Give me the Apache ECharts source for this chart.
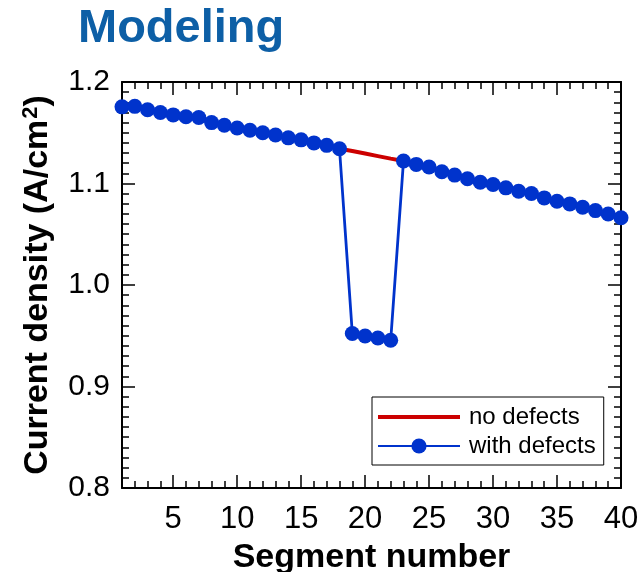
<!DOCTYPE html>
<html>
<head>
<meta charset="utf-8">
<script src="https://cdn.jsdelivr.net/npm/echarts@6/dist/echarts.min.js"></script>
<style>
html,body{margin:0;padding:0;background:#fff;}
#chart{width:640px;height:572px;}
</style>
</head>
<body>
<div id="chart"></div>
<script>
// Data
var segments = [];
for (var i = 1; i <= 40; i++) segments.push(i);
var withDefects = [
  1.1755, 1.176, 1.1726, 1.170, 1.1676, 1.1657, 1.165, 1.160, 1.1574, 1.1547,
  1.1525, 1.150, 1.1478, 1.145, 1.143, 1.140, 1.1376, 1.1342, 0.9522, 0.9498,
  0.9478, 0.9455, 1.1221, 1.1188, 1.1162, 1.1116, 1.1083, 1.1047, 1.1013, 1.099,
  1.0957, 1.0924, 1.0901, 1.0858, 1.0825, 1.0799, 1.0766, 1.0733, 1.070, 1.0663
];
var noDefects = [
  1.1755, 1.176, 1.1726, 1.170, 1.1676, 1.1657, 1.165, 1.160, 1.1574, 1.1547,
  1.1525, 1.150, 1.1478, 1.145, 1.143, 1.140, 1.1376, 1.1342, 1.132, 1.1295,
  1.127, 1.1245, 1.1221, 1.1188, 1.1162, 1.1116, 1.1083, 1.1047, 1.1013, 1.099,
  1.0957, 1.0924, 1.0901, 1.0858, 1.0825, 1.0799, 1.0766, 1.0733, 1.070, 1.0663
];
var xMajorTicks = [5, 10, 15, 20, 25, 30, 35, 40];

var FONT = 'Liberation Sans, Arial, sans-serif';
var chart = echarts.init(document.getElementById('chart'));

function pairs(arr) {
  return segments.map(function (s, i) { return [s, arr[i]]; });
}

var baseX = {
  type: 'value', min: 1, max: 40, interval: 1,
  splitLine: {show: false},
  axisLine: {show: true, onZero: false, lineStyle: {color: '#000', width: 2}},
  axisTick: {show: true, inside: true, length: 7, lineStyle: {color: '#000', width: 1.5}},
  axisLabel: {show: false}
};
function xAxisDef(pos, major, labels) {
  var a = JSON.parse(JSON.stringify(baseX));
  a.position = pos;
  if (major) {
    a.axisLine.show = false;
    a.axisTick = {show: true, inside: true, length: 13, customValues: xMajorTicks,
      lineStyle: {color: '#000', width: 1.5}};
  }
  if (labels) {
    a.axisLabel = {show: true, customValues: xMajorTicks, fontSize: 31, color: '#000',
      fontFamily: FONT, margin: 16};
    a.name = 'Segment number';
    a.nameLocation = 'middle';
    a.nameGap = 53;
    a.nameTextStyle = {fontSize: 34, fontWeight: 'bold', color: '#000', fontFamily: FONT};
  }
  return a;
}
function yAxisDef(pos, labels) {
  var a = {
    type: 'value', min: 0.8, max: 1.2, interval: 0.1, position: pos,
    splitLine: {show: false}, minorSplitLine: {show: false},
    axisLine: {show: true, onZero: false, lineStyle: {color: '#000', width: 2}},
    axisTick: {show: true, inside: true, length: 13, lineStyle: {color: '#000', width: 1.5}},
    minorTick: {show: true, splitNumber: 10, length: 7, lineStyle: {color: '#000', width: 1.5}},
    axisLabel: {show: labels, fontSize: 30, color: '#000', fontFamily: FONT, margin: 12,
      formatter: function (v) { return v.toFixed(1); }}
  };
  if (labels) {
    a.name = 'Current density (A/cm{sup|2})';
    a.nameLocation = 'middle';
    a.nameGap = 66;
    a.nameTextStyle = {fontSize: 34, lineHeight: 36, fontWeight: 'bold', color: '#000', fontFamily: FONT,
      rich: {sup: {fontSize: 22, lineHeight: 22, padding: [0, 0, 14, 1], verticalAlign: 'bottom',
        fontWeight: 'bold', color: '#000', fontFamily: FONT}}};
  }
  return a;
}

// legend icon for the plain line (thin bar, bbox 82x19)
var lineIcon = 'path://M0,0L0.01,0L0.01,0.01Z M0,7.5L82,7.5L82,11.5L0,11.5Z M0,19L0.01,19L0.01,18.99Z';

var option = {
  backgroundColor: '#fff',
  animation: false,
  title: {
    text: 'Modeling', left: 73, top: 1,
    textStyle: {fontSize: 47, fontWeight: 'bold', color: '#0d5fa6', fontFamily: FONT}
  },
  grid: {left: 122, right: 19, top: 82, bottom: 84, containLabel: false, outerBoundsMode: 'none'},
  xAxis: [
    xAxisDef('bottom', false, true),
    xAxisDef('bottom', true, false),
    xAxisDef('top', false, false),
    xAxisDef('top', true, false)
  ],
  yAxis: [yAxisDef('left', true), yAxisDef('right', false)],
  legend: {
    orient: 'vertical', left: 372, top: 397,
    padding: [8, 8, 7, 5], itemGap: 5, itemWidth: 82, itemHeight: 19,
    backgroundColor: '#fff', borderColor: '#000', borderWidth: 1, borderRadius: 0,
    textStyle: {fontSize: 24, lineHeight: 24, color: '#000', fontFamily: FONT, padding: [0, 0, 0, 4]},
    data: [{name: 'no defects', icon: lineIcon}, {name: 'with defects'}]
  },
  series: [
    {
      name: 'no defects', type: 'line', xAxisIndex: 0, yAxisIndex: 0,
      data: pairs(noDefects), symbol: 'none', clip: false, z: 2,
      lineStyle: {color: '#cc0000', width: 4}, itemStyle: {color: '#cc0000'}
    },
    {
      name: 'with defects', type: 'line', xAxisIndex: 0, yAxisIndex: 0,
      data: pairs(withDefects), symbol: 'circle', symbolSize: 15, showAllSymbol: true, clip: false, z: 3,
      lineStyle: {color: '#0033cc', width: 2.8}, itemStyle: {color: '#0033cc'}
    }
  ]
};
chart.setOption(option);
</script>
</body>
</html>
